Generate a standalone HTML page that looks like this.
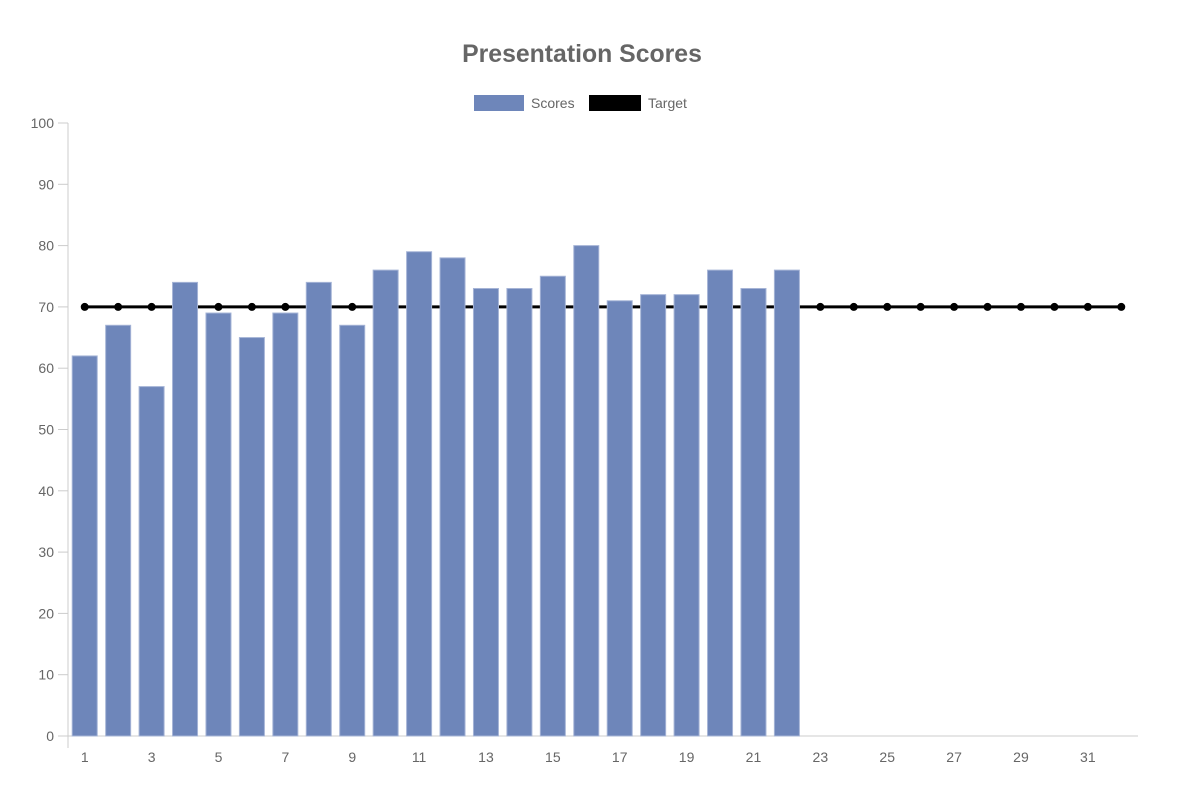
<!DOCTYPE html>
<html><head><meta charset="utf-8"><style>
body{margin:0;background:#fff;font-family:"Liberation Sans",Arial,sans-serif}
</style></head><body>
<svg id="c" width="1204" height="793" xmlns="http://www.w3.org/2000/svg">
<text x="582" y="62" text-anchor="middle" font-size="24.8" font-weight="bold" fill="#666">Presentation Scores</text>
<g>
<rect x="474" y="95" width="50" height="16" fill="#6e86ba"/>
<text x="531" y="108" font-size="14" fill="#666">Scores</text>
<rect x="589" y="95" width="52" height="16" fill="#000"/>
<text x="648" y="108" font-size="14" fill="#666">Target</text>
</g>
<g id="g"></g>
</svg>
<script>
const categories=[];for(let i=1;i<=32;i++)categories.push(String(i));
const scores=[62,67,57,74,69,65,69,74,67,76,79,78,73,73,75,80,71,72,72,76,73,76];
const target=[70,70,70,70,70,70,70,70,70,70,70,70,70,70,70,70,70,70,70,70,70,70,70,70,70,70,70,70,70,70,70,70];
const yTicks=[0,10,20,30,40,50,60,70,80,90,100];
const L=68,R=1138,T=123,B=736,NS="http://www.w3.org/2000/svg";
const g=document.getElementById('g');
const cw=(R-L)/categories.length;
const x=i=>L+cw*(i+0.5);
const y=v=>B-(v/100)*(B-T);
function mk(t,a){const e=document.createElementNS(NS,t);for(const k in a)e.setAttribute(k,a[k]);g.appendChild(e);return e;}
yTicks.forEach(v=>{
 const t=mk('text',{x:54,y:y(v)+5,'text-anchor':'end','font-size':14,fill:'#666'});t.textContent=v;
 
 
 const l=mk('line',{x1:58,x2:L,y1:y(v),y2:y(v),stroke:'#ccc'});
 
 
});
const ax=mk('line',{x1:L,x2:L,y1:T,y2:B+12,stroke:'#ccc'});


const bx=mk('line',{x1:L,x2:R,y1:B,y2:B,stroke:'#ccc'});


categories.forEach((c,i)=>{
 if(i%2===0){const t=mk('text',{x:x(i),y:762,'text-anchor':'middle','font-size':14,fill:'#666'});t.textContent=c;
 
 }
});
const p=mk('polyline',{points:target.map((v,i)=>x(i)+','+y(v)).join(' '),fill:'none',stroke:'#000','stroke-width':3});


target.forEach((v,i)=>{
 const c=mk('circle',{cx:x(i),cy:y(v),r:4,fill:'#000'});
 
 
});
scores.forEach((v,i)=>{
 const r=mk('rect',{x:x(i)-12.5,y:y(v),width:25,height:B-y(v),fill:'#6e86ba',stroke:'#a5b4d6','stroke-width':1});
 
 
});
</script>
</body></html>
